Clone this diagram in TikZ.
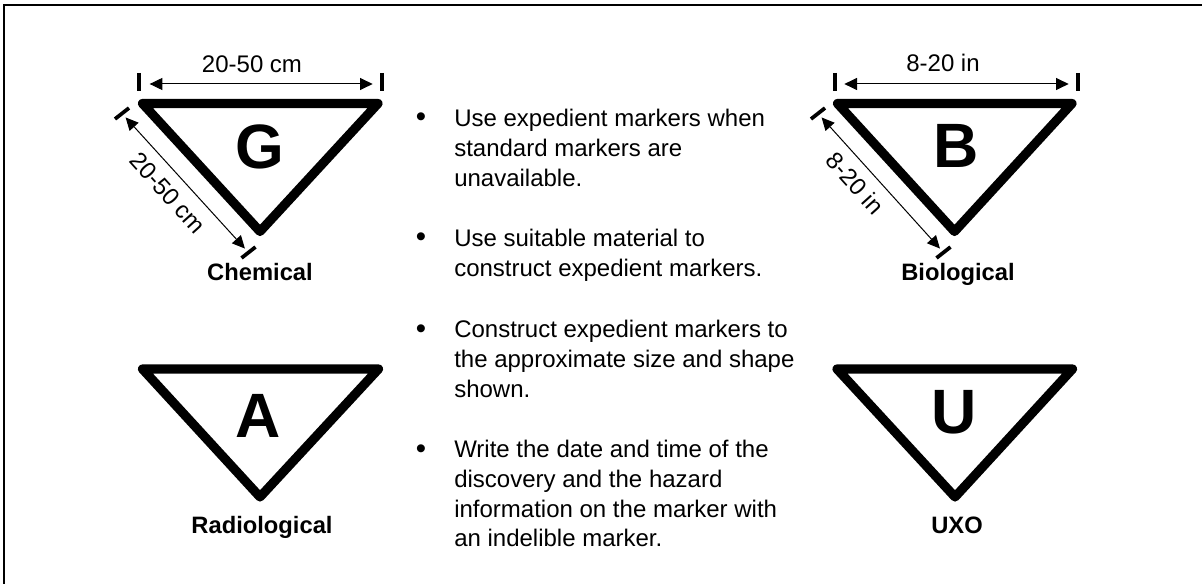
\documentclass[tikz,border=0pt]{standalone}
\usepackage{fontspec}
\setmainfont{Liberation Sans}
\usepackage{tikz}
\usetikzlibrary{arrows.meta}
\tikzset{>={Triangle[length=9.5pt,width=9pt]}}
\tikzset{
  marker/.style={line width=6.9pt,line join=round},
  tick/.style={line width=2.8pt},
  dim/.style={<->,line width=0.75pt},
  letter/.style={font=\fontsize{47pt}{47pt}\selectfont\bfseries,inner sep=0pt,anchor=base},
  caption/.style={font=\fontsize{17.8pt}{21pt}\selectfont\bfseries,inner sep=0pt,anchor=base},
  size/.style={font=\fontsize{18pt}{21pt}\selectfont,inner sep=0pt,anchor=base},
  item/.style={font=\fontsize{18pt}{22.3pt}\selectfont,inner sep=0pt,anchor=north west,align=left},
  dot/.style={font=\fontsize{22pt}{22.3pt}\selectfont,inner sep=0pt,anchor=base}
}

\begin{document}
\begin{tikzpicture}[x=0.75pt,y=-0.75pt]
            \useasboundingbox (0,0) rectangle (1202,584);
            \coordinate (frameTR) at (1202,5);
            \coordinate (frameTL) at (4,5);
            \coordinate (frameBL) at (4,584);
            \draw[line width=1.5pt] (frameTR) -- (frameTL) -- (frameBL);
            % chemical
            \coordinate (gL) at (142.5,103.5);
            \coordinate (gR) at (378,103.5);
            \coordinate (gB) at (260,231.5);
            \draw[marker] (gL) -- (gR) -- (gB) -- cycle;
            \node[letter] (gLetter) at (259.5,169) {G};
            \node[caption] (gCaption) at (260,281) {Chemical};
            \coordinate (gTopL) at (139,84);
            \coordinate (gTopR) at (382,84);
            \draw[tick] (gTopL) ++(0,-11) -- ++(0,18);
            \draw[tick] (gTopR) ++(0,-11) -- ++(0,18);
            \draw[dim,shorten <=8pt,shorten >=7pt] (gTopL) -- (gTopR);
            \node[size] (gTopSize) at (252,73) {20-50 cm};
            \coordinate (gSideT) at (122,113.5);
            \coordinate (gSideB) at (248.5,252.5);
            \draw[tick] (gSideT) ++(-7,5.5) -- ++(14,-11);
            \draw[tick] (gSideB) ++(-7,5.5) -- ++(14,-11);
            \draw[dim,shorten <=4pt,shorten >=4pt] (gSideT) -- (gSideB);
            \node[size,anchor=center,rotate=-48] (gSideSize) at (168,193) {20-50 cm};
            % biological
            \coordinate (bL) at (837.5,103.5);
            \coordinate (bR) at (1072,103.5);
            \coordinate (bB) at (954.5,231.5);
            \draw[marker] (bL) -- (bR) -- (bB) -- cycle;
            \node[letter] (bLetter) at (956,168) {B};
            \node[caption] (bCaption) at (958,281) {Biological};
            \coordinate (bTopL) at (835,84);
            \coordinate (bTopR) at (1078,84);
            \draw[tick] (bTopL) ++(0,-11) -- ++(0,18);
            \draw[tick] (bTopR) ++(0,-11) -- ++(0,18);
            \draw[dim,shorten <=7pt,shorten >=7pt] (bTopL) -- (bTopR);
            \node[size] (bTopSize) at (943,72) {8-20 in};
            \coordinate (bSideT) at (818,113.5);
            \coordinate (bSideB) at (943.5,252.5);
            \draw[tick] (bSideT) ++(-7,5.5) -- ++(14,-11);
            \draw[tick] (bSideB) ++(-7,5.5) -- ++(14,-11);
            \draw[dim,shorten <=4pt,shorten >=4pt] (bSideT) -- (bSideB);
            \node[size,anchor=center,rotate=-48] (bSideSize) at (855,183) {8-20 in};
            % radiological
            \coordinate (aL) at (142.5,369);
            \coordinate (aR) at (378.5,369);
            \coordinate (aB) at (260,497);
            \draw[marker] (aL) -- (aR) -- (aB) -- cycle;
            \node[letter] (aLetter) at (258,437) {A};
            \node[caption] (aCaption) at (262,533) {Radiological};
            % uxo
            \coordinate (uL) at (837,369);
            \coordinate (uR) at (1072.5,369);
            \coordinate (uB) at (955,497);
            \draw[marker] (uL) -- (uR) -- (uB) -- cycle;
            \node[letter] (uLetter) at (954,433) {U};
            \node[caption] (uCaption) at (957,533) {UXO};
            % bullets
            \node[dot] (dotA) at (421,127) {•};
            \node[item] (itemA) at (454,109) {Use expedient markers when\\standard markers are\\unavailable.};
            \node[dot] (dotB) at (421,247) {•};
            \node[item] (itemB) at (454,229) {Use suitable material to\\construct expedient markers.};
            \node[dot] (dotC) at (421,339) {•};
            \node[item] (itemC) at (454,320) {Construct expedient markers to\\the approximate size and shape\\shown.};
            \node[dot] (dotD) at (421,458) {•};
            \node[item] (itemD) at (454,440) {Write the date and time of the\\discovery and the hazard\\information on the marker with\\an indelible marker.};
\end{tikzpicture}
\end{document}
